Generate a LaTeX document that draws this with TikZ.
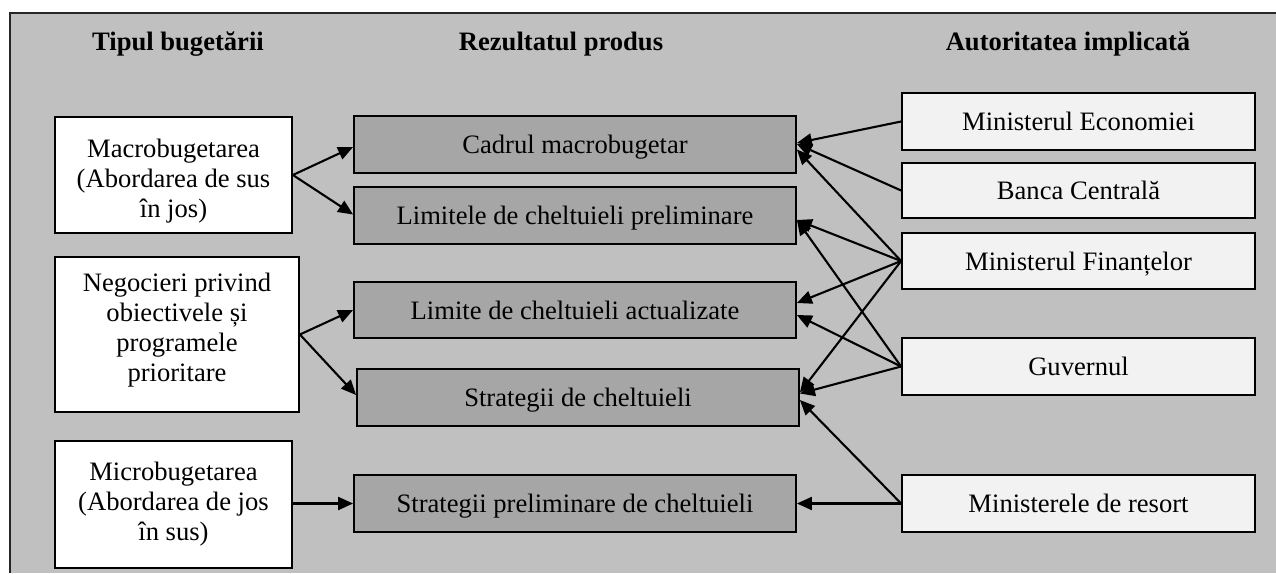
\documentclass[tikz,border=0pt]{standalone}
\usepackage{fontspec}
\setmainfont{Liberation Serif}
\usetikzlibrary{arrows.meta}
\definecolor{bggray}{HTML}{C0C0C0}
\definecolor{midgray}{HTML}{A6A6A6}
\definecolor{rightfill}{HTML}{F2F2F2}
\newcommand{\mlines}[2]{\raisebox{#1}[\height][\depth]{\begin{tabular}{@{}c@{}}#2\end{tabular}}}
\tikzset{
  box/.style={draw=black, line width=1.8pt, inner sep=0pt},
  oneline/.style={text height=20pt, text depth=2pt},
  leftbox/.style={box, fill=white, minimum width=237pt},
  midbox/.style={box, oneline, fill=midgray, minimum width=442pt, minimum height=57pt},
  rightbox/.style={box, oneline, fill=rightfill, minimum width=353pt, minimum height=57pt},
  hdr/.style={font=\fontsize{26.6}{30}\selectfont\bfseries, anchor=base, inner sep=0pt},
  arr/.style={line width=2.1pt, -{Triangle[length=15pt,width=13pt]}}
}
\begin{document}
\begin{tikzpicture}[x=1pt,y=-1pt,font=\fontsize{26.6}{30}\selectfont]
\useasboundingbox (0,0) rectangle (1276,573);
\fill[white] (0,0) rectangle (1276,573);
\fill[bggray] (10,13) rectangle (1276,573);
\draw[line width=2pt, black!85] (10,573) -- (10,13) -- (1276,13);

% headers
\node[hdr] (h1) at (178,50) {Tipul bugetării};
\node[hdr] (h2) at (561,50) {Rezultatul produs};
\node[hdr] (h3) at (1068,50) {Autoritatea implicată};

% left column
\node[leftbox, minimum height=116pt] (macro) at (173.5,175)
  {\mlines{-6pt}{Macrobugetarea\\(Abordarea de sus\\în jos)}};
\node[leftbox, minimum width=244pt, minimum height=155pt] (nego) at (177,334.5)
  {\mlines{4pt}{Negocieri privind\\obiectivele și\\programele\\prioritare}};
\node[leftbox, minimum height=127pt] (micro) at (173.5,504.5)
  {\mlines{0pt}{Microbugetarea\\(Abordarea de jos\\în sus)}};

% middle column
\node[midbox] (cadrul) at (575,144.5) {Cadrul macrobugetar};
\node[midbox] (limitele) at (575,215.5) {Limitele de cheltuieli preliminare};
\node[midbox, minimum height=56pt] (actual) at (575,310) {Limite de cheltuieli actualizate};
\node[midbox] (strat) at (578,397.5) {Strategii de cheltuieli};
\node[midbox] (prelim) at (575,503.5) {Strategii preliminare de cheltuieli};

% right column
\node[rightbox] (me) at (1078.5,121.5) {Ministerul Economiei};
\node[rightbox, minimum height=55pt] (bc) at (1078.5,190.5) {Banca Centrală};
\node[rightbox, minimum height=56pt] (mf) at (1078.5,261) {Ministerul Finanțelor};
\node[rightbox] (guv) at (1078.5,366.5) {Guvernul};
\node[rightbox] (mr) at (1078.5,503.5) {Ministerele de resort};

% left to middle
\draw[arr] (macro.east) -- ([yshift=-2.5pt]cadrul.west);
\draw[arr] (macro.east) -- ([yshift=1pt]limitele.west);
\draw[arr] (nego.east) -- (actual.west);
\draw[arr] (nego.east) -- ([yshift=2.5pt]strat.west);
\draw[arr] ([yshift=1pt]micro.east) -- (prelim.west);

% right to middle
\draw[arr] (me.west) -- ([yshift=1.5pt]cadrul.east);
\draw[arr] (bc.west) -- ([yshift=0.5pt]cadrul.east);
\draw[arr] (mf.west) -- ([yshift=-5pt]cadrul.east);
\draw[arr] (mf.west) -- ([yshift=-4.5pt]limitele.east);
\draw[arr] (mf.west) -- ([yshift=7pt]actual.east);
\draw[arr] (mf.west) -- ([yshift=5pt]strat.east);
\draw[arr] (guv.west) -- ([yshift=-4.5pt]limitele.east);
\draw[arr] (guv.west) -- ([yshift=-5pt]actual.east);
\draw[arr] (guv.west) -- ([yshift=4pt]strat.east);
\draw[arr] (mr.west) -- ([yshift=-2.5pt]strat.east);
\draw[arr] (mr.west) -- (prelim.east);
\end{tikzpicture}
\end{document}
